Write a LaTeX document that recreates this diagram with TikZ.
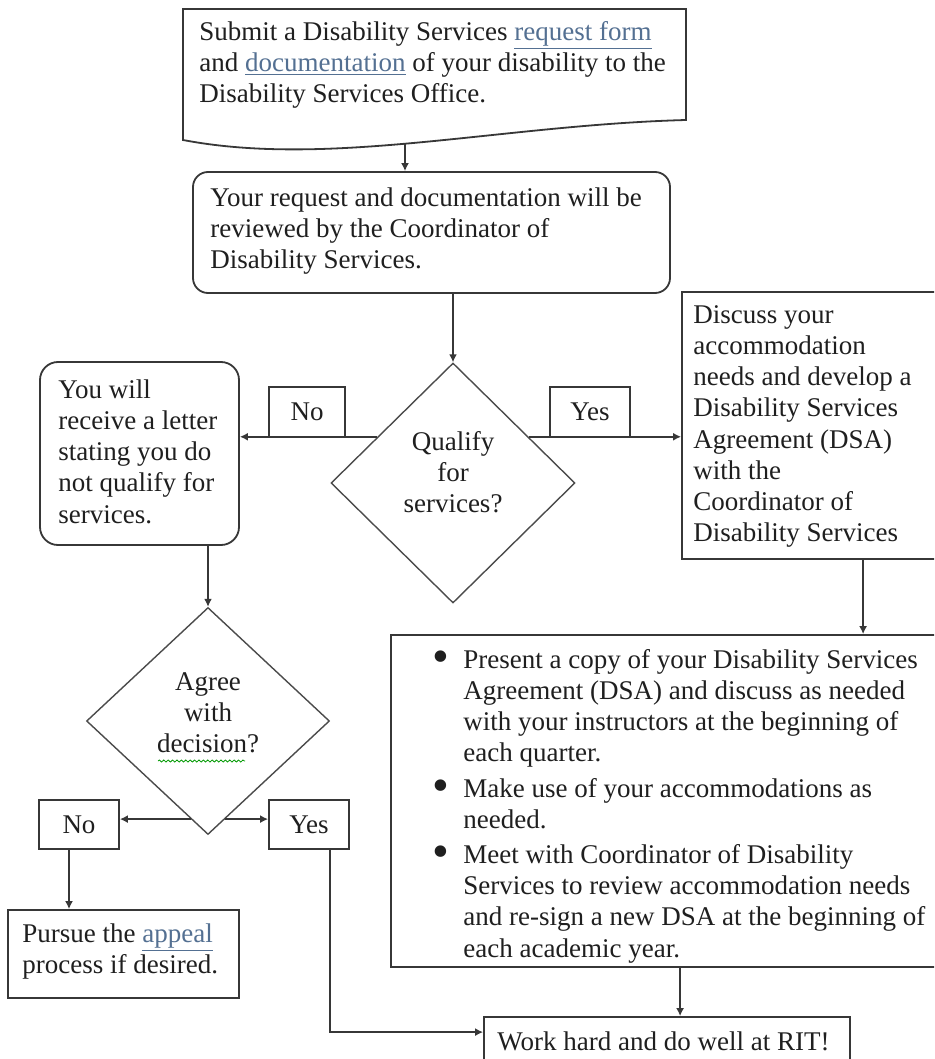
\documentclass[tikz,border=0pt]{standalone}
\usepackage{fontspec}
\setmainfont{Liberation Serif}
\usetikzlibrary{arrows.meta,fit,shapes.geometric,calc,decorations.pathmorphing}
\definecolor{lnk}{RGB}{84,112,146}
\definecolor{lc}{RGB}{55,55,55}
\newcommand{\lnkt}[1]{\textcolor{lnk}{\underline{#1}}}
\newcommand{\bul}{\makebox[0pt][r]{\raisebox{-2.2pt}{\fontsize{24}{24}\selectfont •}\hspace{7pt}}}
\begin{document}
\begin{tikzpicture}[x=0.5pt,y=-0.5pt,
  txt/.style={font=\fontsize{13.5}{15.6}\selectfont, inner sep=0pt, align=left, anchor=north west, text=black!88},
  box/.style={draw=lc, line width=0.9pt, inner sep=0pt},
  fitbox/.style={box, fit={#1}},
  dia/.style={diamond, draw=lc!90, line width=0.7pt, inner sep=0pt},
  lab/.style={draw=lc, line width=0.9pt, inner sep=0pt, font=\fontsize{13.5}{15.6}\selectfont, text=black!88},
  conn/.style={draw=lc, line width=0.9pt},
  arr/.style={conn, -{Latex[length=4pt,width=4pt]}}]
\useasboundingbox (0,0) rectangle (934,1059);
\begin{scope}
\clip (0,0) rectangle (934,1059);
\fill[white] (0,0) rectangle (934,1059);

% document shape (top)
\draw[box] (183,140) -- (183,9) -- (686,9) -- (686,120) .. controls (500,125) and (330,168) .. (183,140) -- cycle;
\node[inner sep=0pt, fit={(183,9)(686,140)}] (b1) {};
\coordinate (b1w) at (405,143);
\node[txt] (t1) at (199,18) {\strut Submit a Disability Services \lnkt{request form}\\
and \lnkt{documentation} of your disability to the\\
Disability Services Office.};

% review box
\node[fitbox={(193,172)(670,293)}, rounded corners=7.5pt] (b2) {};
\node[txt] (t2) at (210,184) {\strut Your request and documentation will be\\
reviewed by the Coordinator of\\
Disability Services.};

% qualify diamond
\node[dia, minimum width=122pt, minimum height=120pt] (q) at (453,483) {};
\node[txt, align=center, anchor=north] (qt) at (453,428) {\strut Qualify\\ for\\ services?};

% labels
\node[lab, minimum width=38pt, minimum height=25pt] (no1) at (307,412) {No};
\node[lab, minimum width=40pt, minimum height=25pt] (yes1) at (590,412) {Yes};

% left box
\node[fitbox={(40,362)(239,545)}, rounded corners=9pt] (L) {};
\node[txt] (tL) at (58,376) {\strut You will\\ receive a letter\\ stating you do\\ not qualify for\\ services.};

% discuss box
\node[fitbox={(682,292)(960,559)}] (D) {};
\node[txt] (tD) at (693,301) {\strut Discuss your\\ accommodation\\ needs and develop a\\ Disability Services\\ Agreement (DSA)\\ with the\\ Coordinator of\\ Disability Services};

% agree diamond
\node[dia, minimum width=121.5pt, minimum height=113.5pt] (A) at (208,721) {};
\node[txt, align=center, anchor=north] (At) at (208,668) {\strut Agree\\ with\\ decision?};
\draw[green!60!black, line width=0.4pt, decorate, decoration={snake, segment length=2.2pt, amplitude=0.5pt}] (158,761) -- (245,761);

% agree labels
\node[lab, minimum width=40pt, minimum height=24.5pt] (no2) at (79,824.5) {No};
\node[lab, minimum width=40pt, minimum height=24.5pt] (yes2) at (309,824.5) {Yes};

% pursue box
\node[fitbox={(8,910)(239,998)}] (P) {};
\node[txt] (tP) at (22,920) {\strut Pursue the \lnkt{appeal}\\ process if desired.};

% big bullet box
\node[fitbox={(391,635)(960,967)}] (B) {};
\node[txt] (tB) at (463,646) {\strut\bul Present a copy of your Disability Services\\
Agreement (DSA) and discuss as needed\\
with your instructors at the beginning of\\
each quarter.\\[2pt]
\bul Make use of your accommodations as\\
needed.\\[2pt]
\bul Meet with Coordinator of Disability\\
Services to review accommodation needs\\
and re-sign a new DSA at the beginning of\\
each academic year.};

% work box
\node[fitbox={(484,1017)(850,1090)}] (W) {};
\node[txt] (tW) at (497,1028) {\strut Work hard and do well at RIT!};

% connectors
\draw[arr] (b1w) -- (b1w |- b2.north);
\draw[arr] (q.north |- b2.south) -- (q.north);
\coordinate (qL) at ($(q.north)!0.617!(q.west)$);
\coordinate (qR) at ($(q.north)!0.617!(q.east)$);
\draw[arr] (qL) -- (qL -| L.east);
\draw[arr] (qR) -- (qR -| D.west);
\draw[arr] (A.north |- L.south) -- (A.north);
\coordinate (aL) at ($(A.south)!0.141!(A.west)$);
\coordinate (aR) at ($(A.south)!0.141!(A.east)$);
\draw[arr] (aL) -- (aL -| no2.east);
\draw[arr] (aR) -- (aR -| yes2.west);
\draw[arr] ([xshift=-5pt]no2.south) -- ([xshift=-5pt]no2.south |- P.north);
\draw[arr] ([xshift=10.5pt]yes2.south) |- ([yshift=-8pt]W.north west);
\draw[arr] ([xshift=91pt]D.south west) -- ([xshift=91pt]D.south west |- B.north);
\draw[arr] ([xshift=145pt]B.south west) -- ([xshift=145pt]B.south west |- W.north);
\end{scope}
\end{tikzpicture}
\end{document}
